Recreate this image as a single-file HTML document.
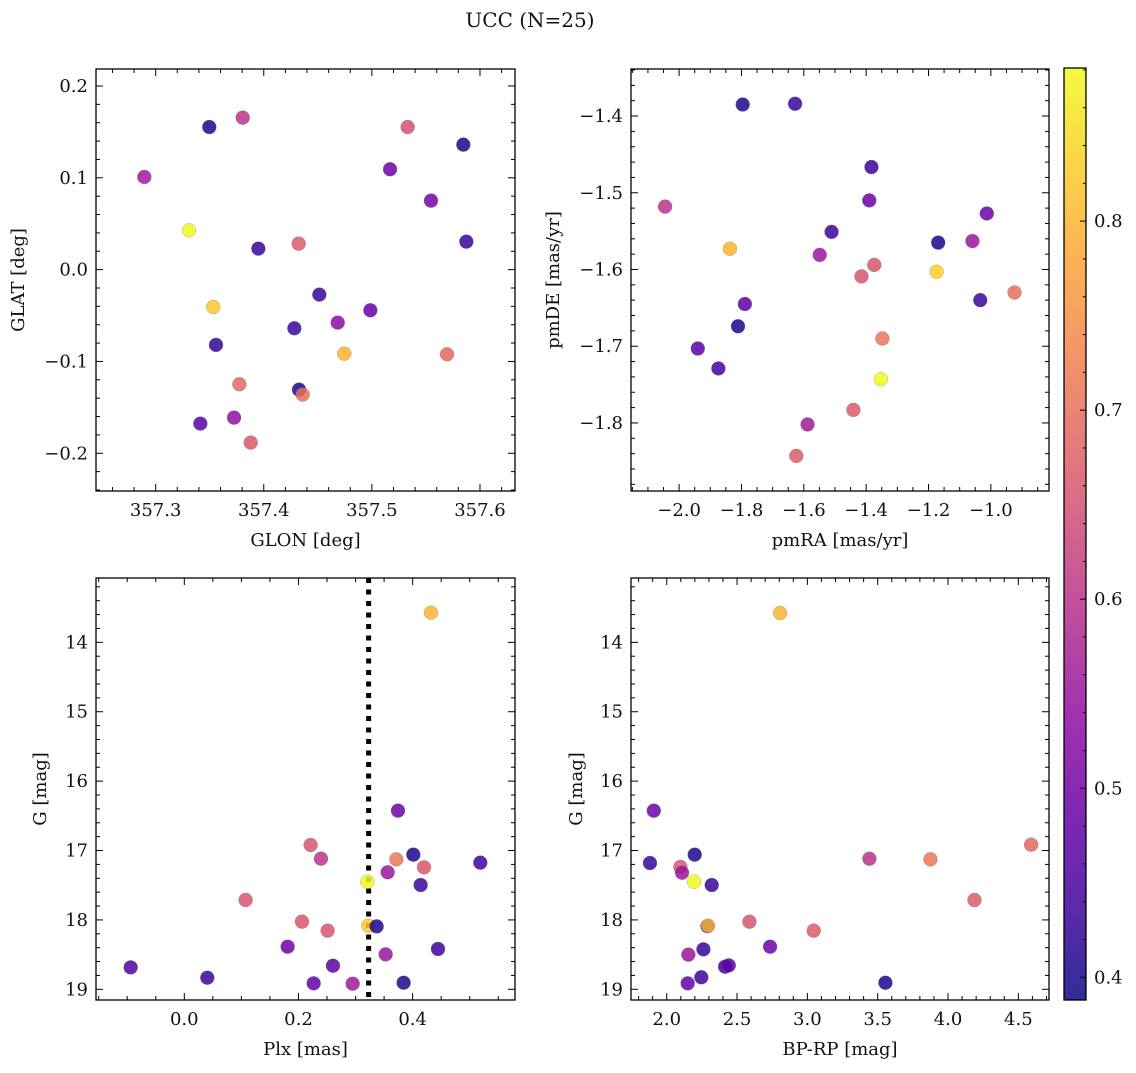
<!DOCTYPE html>
<html><head><meta charset="utf-8"><style>
body{margin:0;background:#fff;}
svg text{font-family:"DejaVu Serif","Liberation Serif",serif;fill:#111;}
</style></head><body>
<svg id="fig" width="1136" height="1068" viewBox="0 0 1136 1068" xmlns="http://www.w3.org/2000/svg">
<defs>
<linearGradient id="plasma" x1="0" y1="1" x2="0" y2="0"></linearGradient>
</defs>
<text x="530" y="27" font-size="20" text-anchor="middle">UCC (N=25)</text>
</svg>
<script>
// ---- data ----
const glon = [357.2895,357.3496,357.3805,357.5331,357.5846,357.5168,357.5547,357.3308,357.3950,357.4323,357.5874,357.4514,357.3533,357.4986,357.4684,357.4283,357.3558,357.4745,357.5695,357.3774,357.4326,357.4360,357.3413,357.3725,357.3879];
const glat = [0.1009,0.1553,0.1655,0.1553,0.1361,0.1093,0.0751,0.0428,0.0229,0.0283,0.0305,-0.0272,-0.0407,-0.0443,-0.0577,-0.0639,-0.0820,-0.0915,-0.0922,-0.1249,-0.1307,-0.1361,-0.1677,-0.1612,-0.1884];
const probA = [0.56,0.40,0.60,0.65,0.40,0.49,0.50,0.88,0.43,0.67,0.43,0.43,0.82,0.48,0.53,0.43,0.42,0.80,0.69,0.69,0.40,0.70,0.47,0.54,0.66];

const pmra = [-1.796,-1.628,-1.383,-1.390,-2.045,-1.013,-1.511,-1.169,-1.059,-1.837,-1.549,-1.374,-1.415,-1.174,-0.924,-1.034,-1.789,-1.811,-1.348,-1.940,-1.874,-1.353,-1.441,-1.588,-1.624];
const pmde = [-1.385,-1.384,-1.4665,-1.510,-1.518,-1.527,-1.551,-1.565,-1.563,-1.573,-1.581,-1.594,-1.609,-1.603,-1.630,-1.640,-1.645,-1.674,-1.690,-1.703,-1.729,-1.743,-1.783,-1.802,-1.843];
const probB = [0.40,0.43,0.43,0.49,0.60,0.49,0.43,0.40,0.55,0.80,0.55,0.66,0.66,0.83,0.70,0.43,0.47,0.40,0.71,0.47,0.44,0.88,0.67,0.56,0.67];

const plx = [0.4321,0.3743,0.2213,0.2394,0.4012,0.3714,0.5185,0.4199,0.3562,0.3206,0.4140,0.1074,0.2061,0.3223,0.3369,0.2511,0.1810,0.4444,0.3527,0.2604,-0.0940,0.0403,0.2266,0.2949,0.3842];
const gmagC = [13.573,16.425,16.920,17.117,17.059,17.127,17.175,17.242,17.314,17.449,17.497,17.713,18.025,18.083,18.093,18.155,18.386,18.419,18.496,18.660,18.684,18.833,18.914,18.919,18.905];
const probC = [0.80,0.49,0.66,0.60,0.40,0.71,0.43,0.66,0.55,0.88,0.43,0.66,0.66,0.82,0.40,0.66,0.49,0.43,0.55,0.47,0.45,0.43,0.48,0.56,0.40];
const plxLine = [0.3229];

const bprp = [2.806,1.908,1.881,2.199,2.097,2.109,2.194,2.320,3.441,3.875,4.591,4.188,2.588,2.29,2.294,3.045,2.735,2.261,2.154,2.415,2.441,2.246,2.149,3.555];
const gmagD = [13.578,16.426,17.180,17.060,17.238,17.320,17.449,17.497,17.118,17.127,16.916,17.713,18.026,18.09,18.083,18.155,18.386,18.424,18.501,18.674,18.655,18.827,18.914,18.905];
const probD = [0.80,0.49,0.43,0.40,0.66,0.55,0.88,0.43,0.60,0.71,0.69,0.67,0.66,0.40,0.80,0.67,0.49,0.43,0.55,0.43,0.47,0.43,0.48,0.40];

const cbTicks = [0.4,0.5,0.6,0.7,0.8];
const cbRange = [0.388,0.881];

// ---- drawing ----
const NS='http://www.w3.org/2000/svg';
const fig=document.getElementById('fig');
const FS=18;
function mk(tag,attrs,parent){const e=document.createElementNS(NS,tag);for(const k in attrs)e.setAttribute(k,attrs[k]);(parent||fig).appendChild(e);return e;}
const stops=[[0,[13,8,135]],[0.1,[65,4,157]],[0.2,[106,0,168]],[0.3,[143,13,164]],[0.4,[177,42,144]],[0.5,[204,71,120]],[0.6,[225,100,98]],[0.7,[242,132,75]],[0.8,[252,166,54]],[0.9,[252,206,37]],[1,[240,249,33]]];
function plasma(t){t=Math.max(0,Math.min(1,t));for(let i=1;i<stops.length;i++){if(t<=stops[i][0]){const a=stops[i-1],b=stops[i];const f=(t-a[0])/(b[0]-a[0]);const c=a[1].map((v,j)=>Math.round(v+(b[1][j]-v)*f));return 'rgb('+c.join(',')+')';}}return 'rgb(240,249,33)';}
function cmap(v){return plasma((v-cbRange[0])/(cbRange[1]-cbRange[0]));}
function fmt(v,d){const s=Math.abs(v).toFixed(d);return (v<-1e-9?'\u2212':'')+s;}

function panel(o){
  const g=mk('g',{});
  
  
  const X=v=>o.x0+(v-o.xd[0])/(o.xd[1]-o.xd[0])*(o.x1-o.x0);
  const Y=v=>o.yinv? o.y0+(v-o.yd[0])/(o.yd[1]-o.yd[0])*(o.y1-o.y0) : o.y1-(v-o.yd[0])/(o.yd[1]-o.yd[0])*(o.y1-o.y0);
  const clip='clip-'+o.name;
  const cp=mk('clipPath',{id:clip},g);mk('rect',{x:o.x0,y:o.y0,width:o.x1-o.x0,height:o.y1-o.y0},cp);
  const pg=mk('g',{'clip-path':'url(#'+clip+')'},g);
  if(o.vline){o.vline.forEach(v=>{const l=mk('line',{x1:X(v),x2:X(v),y1:o.y0,y2:o.y1,stroke:'#000','stroke-width':5,'stroke-dasharray':'5 6.5'},pg);
    
    });}
  for(let i=0;i<o.xs.length;i++){
    const c=mk('circle',{cx:X(o.xs[i]),cy:Y(o.ys[i]),r:7,fill:cmap(o.cs[i]),'fill-opacity':0.85,stroke:'#777','stroke-opacity':0.5,'stroke-width':0.5},pg);
    
    
  }
  const tk=mk('g',{stroke:'#000','stroke-width':1},g);
  for(let v=Math.ceil(o.xd[0]/o.xmin-1e-6)*o.xmin;v<=o.xd[1];v+=o.xmin){const px=X(v);const major=Math.abs(v/o.xmaj-Math.round(v/o.xmaj))<1e-4;const L=major?7:4;
    mk('line',{x1:px,x2:px,y1:o.y1,y2:o.y1-L},tk);mk('line',{x1:px,x2:px,y1:o.y0,y2:o.y0+L},tk);
    if(major){const t=mk('text',{x:px,y:o.y1+25,'font-size':FS,'text-anchor':'middle'},g);t.textContent=fmt(Math.round(v/o.xmaj)*o.xmaj,o.xdec);
      
      }}
  for(let v=Math.ceil(o.yd[0]/o.ymin-1e-6)*o.ymin;v<=o.yd[1];v+=o.ymin){const py=Y(v);const major=Math.abs(v/o.ymaj-Math.round(v/o.ymaj))<1e-4;const L=major?7:4;
    mk('line',{x1:o.x0,x2:o.x0+L,y1:py,y2:py},tk);mk('line',{x1:o.x1,x2:o.x1-L,y1:py,y2:py},tk);
    if(major){const t=mk('text',{x:o.x0-8,y:py+6,'font-size':FS,'text-anchor':'end'},g);t.textContent=fmt(Math.round(v/o.ymaj)*o.ymaj,o.ydec);
      
      }}
  const fr=mk('rect',{x:o.x0,y:o.y0,width:o.x1-o.x0,height:o.y1-o.y0,fill:'none',stroke:'#000','stroke-width':1.3},g);
  
  
  const xl=mk('text',{x:(o.x0+o.x1)/2,y:o.y1+55,'font-size':FS,'text-anchor':'middle'},g);xl.textContent=o.xlabel;
  
  
  const yc=(o.y0+o.y1)/2;
  const yl=mk('text',{x:o.ylx,y:yc,'font-size':FS,'text-anchor':'middle',transform:'rotate(-90 '+o.ylx+' '+yc+')'},g);yl.textContent=o.ylabel;
  
  
}

panel({name:'glon-glat-panel',x0:96,x1:515,y0:69,y1:491,xd:[357.2448,357.6324],yd:[-0.2411,0.2185],xmaj:0.1,xmin:0.02,ymaj:0.1,ymin:0.02,xdec:1,ydec:1,xs:glon,ys:glat,cs:probA,xlabel:'GLON [deg]',ylabel:'GLAT [deg]',ylx:24});
panel({name:'pm-panel',x0:631,x1:1049,y0:69,y1:491,xd:[-2.1543,-0.8135],yd:[-1.8887,-1.3387],xmaj:0.2,xmin:0.05,ymaj:0.1,ymin:0.02,xdec:1,ydec:1,xs:pmra,ys:pmde,cs:probB,xlabel:'pmRA [mas/yr]',ylabel:'pmDE [mas/yr]',ylx:559});
panel({name:'plx-g-panel',x0:96,x1:515,y0:578,y1:1000,xd:[-0.1547,0.5793],yd:[13.073,19.154],yinv:true,xmaj:0.2,xmin:0.05,ymaj:1,ymin:0.2,xdec:1,ydec:0,xs:plx,ys:gmagC,cs:probC,vline:plxLine,xlabel:'Plx [mas]',ylabel:'G [mag]',ylx:46});
panel({name:'cmd-panel',x0:631,x1:1049,y0:578,y1:1000,xd:[1.746,4.718],yd:[13.073,19.154],yinv:true,xmaj:0.5,xmin:0.1,ymaj:1,ymin:0.2,xdec:1,ydec:0,xs:bprp,ys:gmagD,cs:probD,xlabel:'BP-RP [mag]',ylabel:'G [mag]',ylx:582});

const grad=document.getElementById('plasma');
for(let i=0;i<=20;i++){mk('stop',{offset:(i/20),'stop-color':plasma(i/20)},grad);}
const cb=mk('g',{});


const cbx0=1064,cbx1=1086,cby0=68,cby1=1000;
mk('rect',{x:cbx0,y:cby0,width:cbx1-cbx0,height:cby1-cby0,fill:'url(#plasma)','fill-opacity':0.85},cb);
const CY=v=>cby1-(v-cbRange[0])/(cbRange[1]-cbRange[0])*(cby1-cby0);
for(let v=0.4;v<=cbRange[1];v+=0.02){const y=CY(v);const major=Math.abs(v*10-Math.round(v*10))<1e-4;mk('line',{x1:cbx1,x2:cbx1-(major?6:3),y1:y,y2:y,stroke:'#000','stroke-width':1},cb);}
cbTicks.forEach(v=>{const y=CY(v);const t=mk('text',{x:cbx1+8,y:y+6,'font-size':FS},cb);t.textContent=v.toFixed(1);
  
  });
mk('rect',{x:cbx0,y:cby0,width:cbx1-cbx0,height:cby1-cby0,fill:'none',stroke:'#000','stroke-width':1.3},cb);
</script>
</body></html>
